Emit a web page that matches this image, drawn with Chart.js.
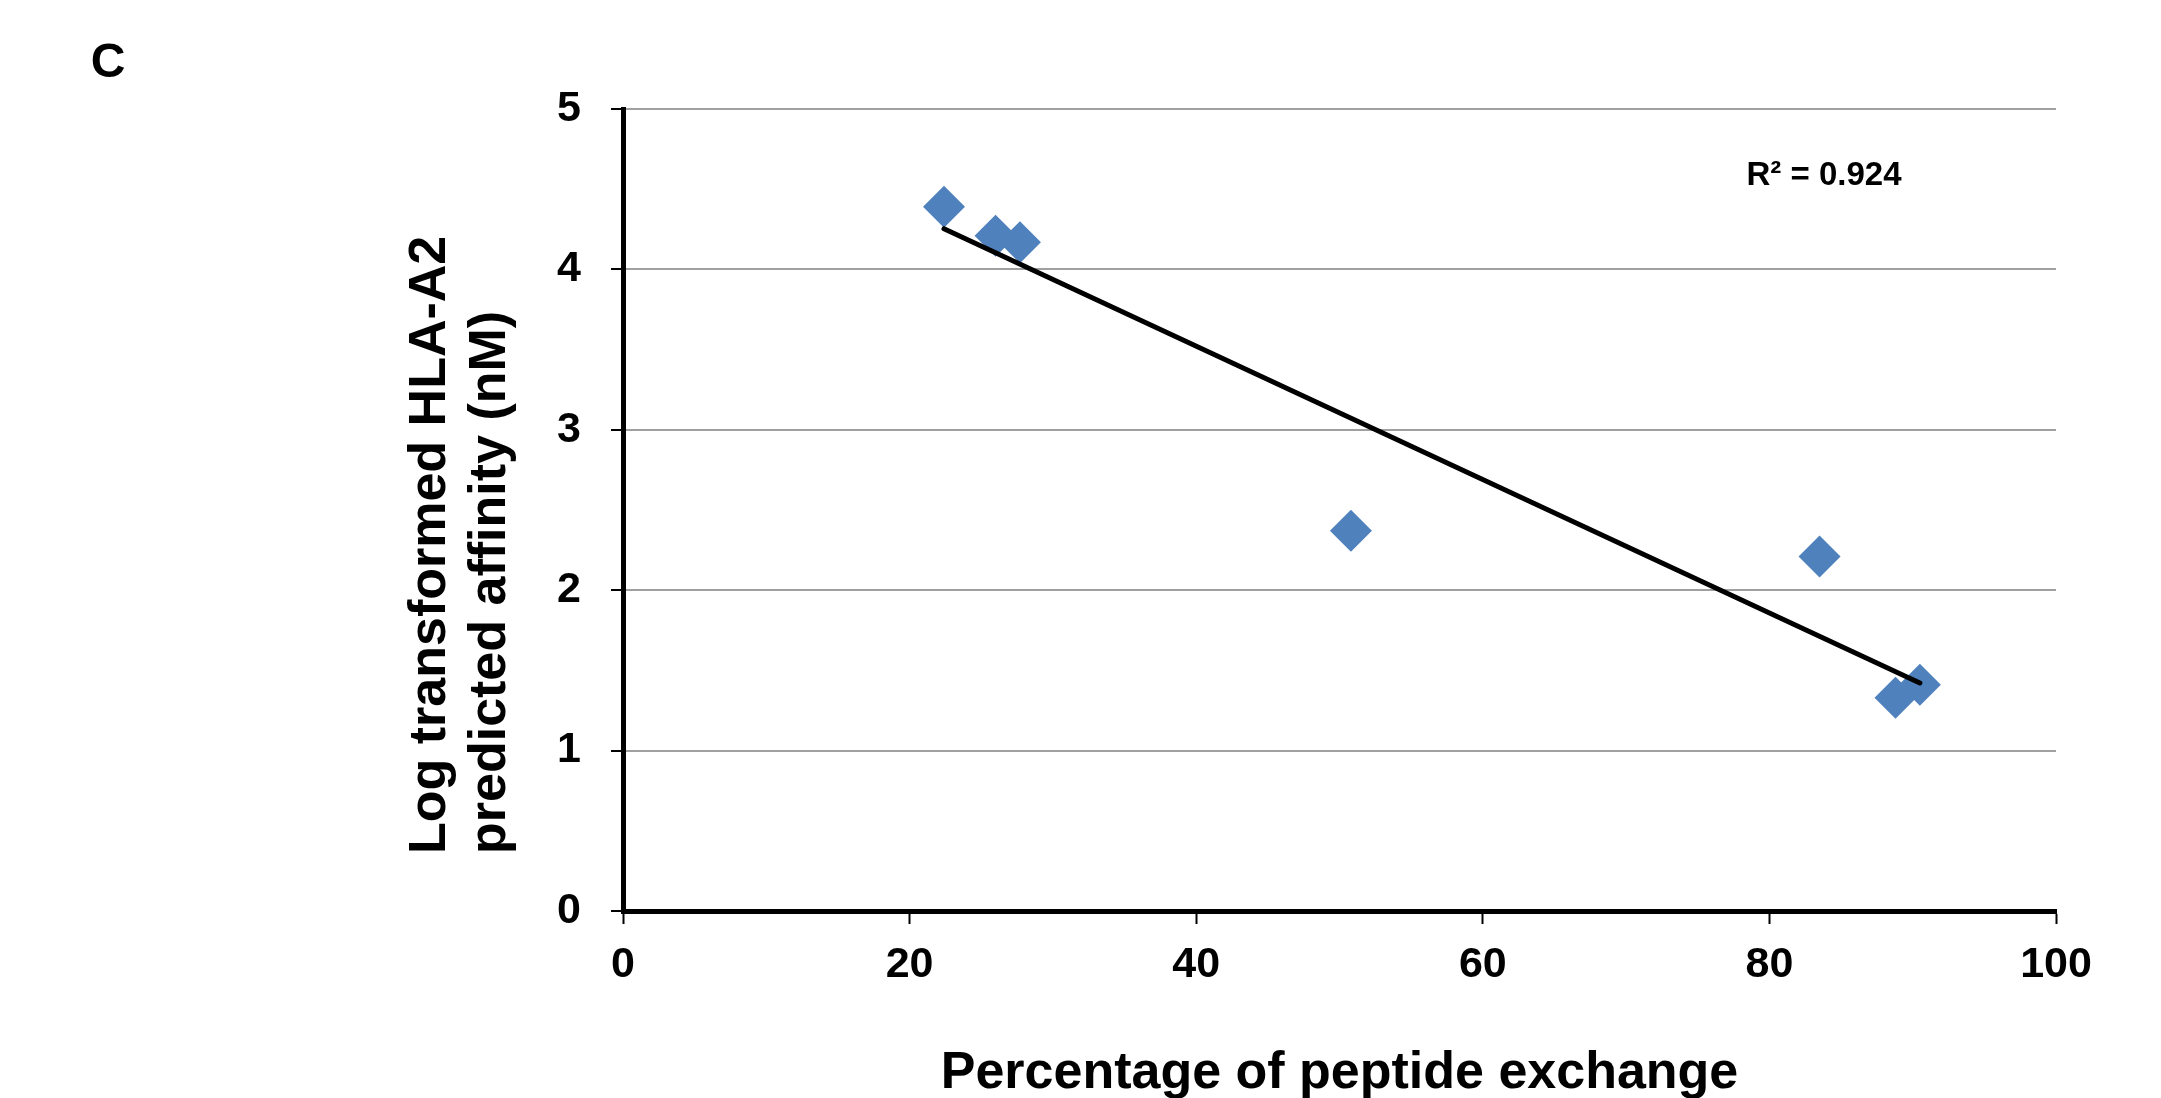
<!DOCTYPE html>
<html>
<head>
<meta charset="utf-8">
<title>Peptide exchange vs HLA-A2 affinity</title>
<script src="https://cdn.jsdelivr.net/npm/chart.js@4/dist/chart.umd.min.js"></script>
<style>
  html, body { margin: 0; padding: 0; background: #fff; }
  #wrap { width: 2161px; height: 1098px; }
</style>
</head>
<body>
<div id="wrap"><canvas id="myChart" width="2161" height="1098"></canvas></div>
<script>
const panelLabel = "C";
const exchange = [22.4, 26.0, 27.7, 50.8, 83.5, 88.8, 90.5];
const affinity = [4.39, 4.21, 4.17, 2.37, 2.21, 1.33, 1.41];
const xTicks = [0, 20, 40, 60, 80, 100];
const yTicks = [0, 1, 2, 3, 4, 5];
const xTitle = "Percentage of peptide exchange";
const yTitle = ["Log transformed HLA-A2", "predicted affinity (nM)"];
const r2Label = "R² = 0.924";

const FONT = '"Liberation Sans", Arial, sans-serif';

// linear least squares for the trendline
function fitLine(xs, ys) {
  const n = xs.length;
  const mx = xs.reduce((a, b) => a + b, 0) / n;
  const my = ys.reduce((a, b) => a + b, 0) / n;
  let sxy = 0, sxx = 0;
  for (let i = 0; i < n; i++) {
    sxy += (xs[i] - mx) * (ys[i] - my);
    sxx += (xs[i] - mx) * (xs[i] - mx);
  }
  const slope = sxy / sxx;
  return x => my + slope * (x - mx);
}

const line = fitLine(exchange, affinity);
const xMin = Math.min(...exchange);
const xMax = Math.max(...exchange);

const textPlugin = {
  id: "extraText",
  afterDraw(chart) {
    const ctx = chart.ctx;
    const xs = chart.scales.x;
    const ys = chart.scales.y;
    ctx.save();
    ctx.fillStyle = "#000";

    ctx.font = "bold 48px " + FONT;
    ctx.textAlign = "center";
    ctx.textBaseline = "middle";
    ctx.fillText(panelLabel, 108, 64);

    ctx.font = "bold 33px " + FONT;
    ctx.textAlign = "left";
    ctx.fillText(r2Label, xs.getPixelForValue(78.4), ys.getPixelForValue(4.58));

    ctx.font = "bold 52px " + FONT;
    ctx.textAlign = "left";
    ctx.textBaseline = "middle";
    const starts = [431, 491];
    yTitle.forEach((t, i) => {
      ctx.save();
      ctx.translate(starts[i], 854);
      ctx.rotate(-Math.PI / 2);
      ctx.fillText(t, 0, 0);
      ctx.restore();
    });
    ctx.restore();
  }
};

const data = {
  datasets: [
    {
      type: "scatter",
      label: "Peptides",
      data: exchange.map((x, i) => ({ x: x, y: affinity[i] })),
      pointStyle: "rectRot",
      pointRadius: 21,
      pointHoverRadius: 21,
      pointBackgroundColor: "#4F81BD",
      pointBorderWidth: 0,
      borderWidth: 0,
      order: 1
    },
    {
      type: "line",
      label: "Linear fit",
      data: [{ x: xMin, y: line(xMin) }, { x: xMax, y: line(xMax) }],
      borderColor: "#000",
      borderWidth: 5,
      borderCapStyle: "round",
      pointRadius: 0,
      fill: false,
      order: 0
    }
  ]
};

const config = {
  type: "scatter",
  data,
  options: {
    responsive: false,
    animation: false,
    layout: { padding: { left: 0, top: 109, right: 105, bottom: 0 } },
    plugins: {
      legend: { display: false },
      tooltip: { enabled: false }
    },
    scales: {
      x: {
        type: "linear",
        min: 0,
        max: 100,
        afterBuildTicks: s => { s.ticks = xTicks.map(v => ({ value: v })); },
        afterFit: s => { s.height = 187; },
        grid: {
          drawOnChartArea: false,
          drawTicks: true,
          tickLength: 13,
          tickColor: "#000",
          tickWidth: 2
        },
        border: { color: "#000", width: 5 },
        ticks: {
          color: "#000",
          padding: 15,
          font: { family: FONT, size: 43, weight: "bold" }
        },
        title: {
          display: true,
          text: xTitle,
          color: "#000",
          padding: { top: 0, bottom: -2 },
          font: { family: FONT, size: 52, weight: "bold", lineHeight: 1 }
        }
      },
      y: {
        type: "linear",
        min: 0,
        max: 5,
        afterBuildTicks: s => { s.ticks = yTicks.map(v => ({ value: v })); },
        afterFit: s => { s.width = 623; },
        grid: {
          color: "#a0a0a0",
          lineWidth: 2,
          drawTicks: true,
          tickLength: 12,
          tickColor: "#000",
          tickWidth: 2
        },
        border: { color: "#000", width: 5 },
        ticks: {
          color: "#000",
          padding: 30,
          font: { family: FONT, size: 43, weight: "bold" }
        }
      }
    }
  },
  plugins: [textPlugin]
};

var myChart = new Chart(document.getElementById("myChart"), config);
</script>
</body>
</html>
